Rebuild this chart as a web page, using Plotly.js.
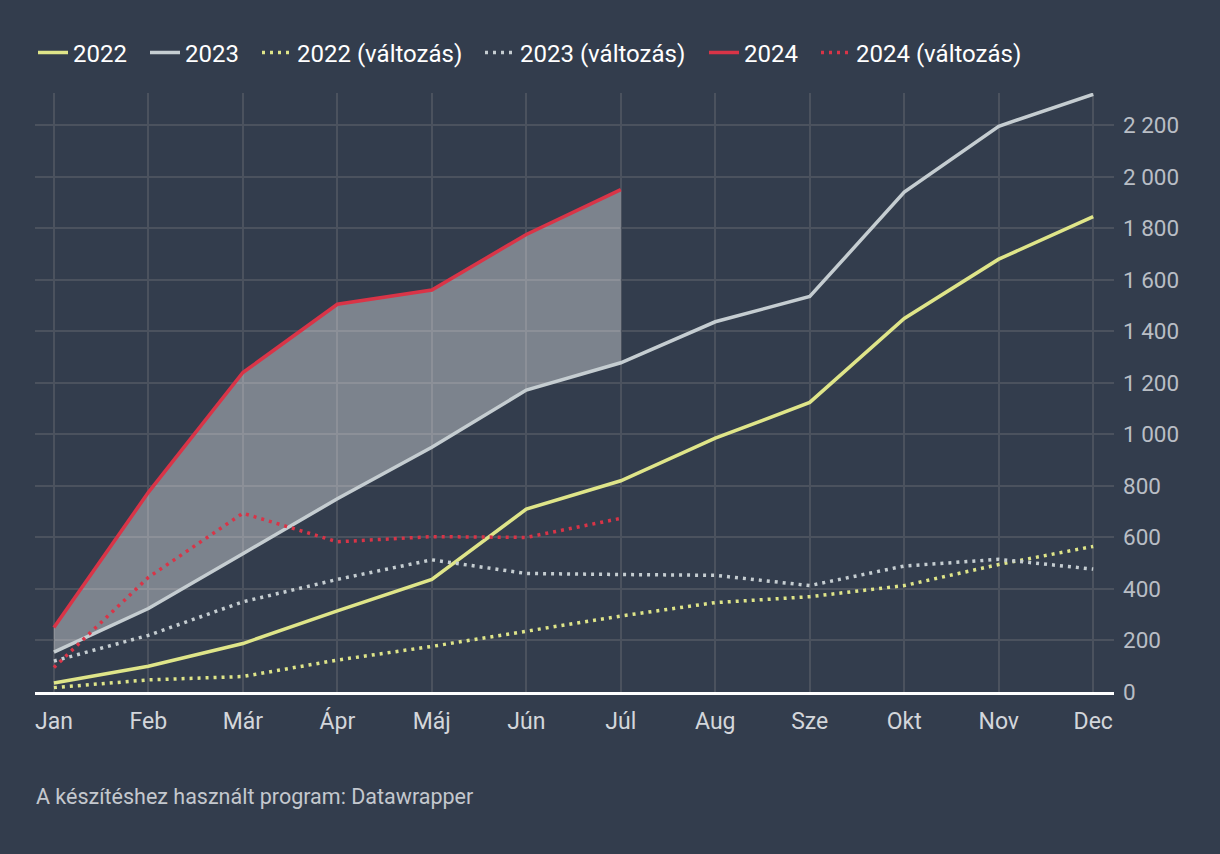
<!DOCTYPE html>
<html>
<head>
<meta charset="utf-8">
<script src="https://cdn.plot.ly/plotly-3.0.1.min.js"></script>
<style>
  html, body { margin: 0; padding: 0; background: #333d4d; }
  #chart { width: 1220px; height: 854px; }
</style>
</head>
<body>
<div id="chart"></div>
<script>
const months = ['Jan','Feb','Már','Ápr','Máj','Jún','Júl','Aug','Sze','Okt','Nov','Dec'];
const s2022 = [35,100,188,315,437,710,820,985,1124,1450,1680,1845];
const s2023 = [155,324,537,750,950,1172,1278,1437,1535,1940,2196,2320];
const s2024 = [250,775,1240,1505,1560,1776,1950];
const c2022 = [17,47,60,124,177,237,295,347,370,413,495,565];
const c2023 = [120,220,350,437,513,460,456,453,413,489,515,477];
const c2024 = [95,445,694,583,603,600,674];
const sourceText = 'A készítéshez használt program: Datawrapper';

const YEL = '#dfe589', GRY = '#c5cdd1', RED = '#d93447';
const dotDash = '3px,5px';
const LW = 3.5;

const m24 = months.slice(0, s2024.length);

const traces = [
  { x: m24, y: s2023.slice(0, s2024.length), mode: 'lines', line: {width: 0, color: GRY},
    showlegend: false, hoverinfo: 'skip' },
  { x: m24, y: s2024, mode: 'lines', line: {width: 0, color: RED}, fill: 'tonexty',
    fillcolor: 'rgba(255,255,255,0.36)', showlegend: false, hoverinfo: 'skip' },
  { name: '2022', x: months, y: s2022, mode: 'lines', line: {color: YEL, width: LW}, legend: 'legend' },
  { name: '2023', x: months, y: s2023, mode: 'lines', line: {color: GRY, width: LW}, legend: 'legend2' },
  { name: '2022 (változás)', x: months, y: c2022, mode: 'lines', line: {color: YEL, width: LW, dash: dotDash}, legend: 'legend3' },
  { name: '2023 (változás)', x: months, y: c2023, mode: 'lines', line: {color: GRY, width: LW, dash: dotDash}, legend: 'legend4' },
  { name: '2024 (változás)', x: m24, y: c2024, mode: 'lines', line: {color: RED, width: LW, dash: dotDash}, legend: 'legend6' },
  { name: '2024', x: m24, y: s2024, mode: 'lines', line: {color: RED, width: LW}, legend: 'legend5' }
];

// legend text start positions in pixels (layout)
const legendPx = [33, 145, 257, 480, 704, 816];
const W = 1220, ML = 35, MR = 106, PW = W - ML - MR;

const layout = {
  width: 1220, height: 854,
  paper_bgcolor: '#333d4d', plot_bgcolor: '#333d4d',
  font: {family: 'Roboto, sans-serif', size: 22, color: '#ffffff'},
  separators: ', ',
  margin: {l: ML, r: MR, t: 93, b: 162},
  showlegend: true,
  xaxis: {type: 'category', range: [-0.2, 11.22], showgrid: true, gridcolor: '#4b525e', gridwidth: 2,
          showline: true, linecolor: '#ffffff', linewidth: 3, ticks: '', zeroline: false,
          ticklabelstandoff: 6,
          tickfont: {size: 23, color: '#d3d6db'}, fixedrange: true},
  yaxis: {side: 'right', range: [0, 2325], tick0: 0, dtick: 200, showgrid: true, gridcolor: '#4b525e',
          gridwidth: 2, zeroline: false, separatethousands: true, ticks: '', ticklabelstandoff: 8,
          tickfont: {size: 22.5, color: '#b9bec5'}, fixedrange: true},
  annotations: [{text: sourceText, xref: 'paper', yref: 'paper', x: -0.001, y: -0.175,
                 xanchor: 'left', yanchor: 'middle', showarrow: false,
                 font: {size: 21.5, color: '#c4c8ce'}}]
};

['legend','legend2','legend3','legend4','legend5','legend6'].forEach((k, i) => {
  layout[k] = {orientation: 'h', x: (legendPx[i] - ML) / PW, xanchor: 'left', y: 1.067, yanchor: 'middle',
               font: {size: 24, color: '#ffffff'}, bgcolor: 'rgba(0,0,0,0)', itemwidth: 30};
});

Plotly.newPlot('chart', traces, layout, {displayModeBar: false, staticPlot: true});
</script>
</body>
</html>
